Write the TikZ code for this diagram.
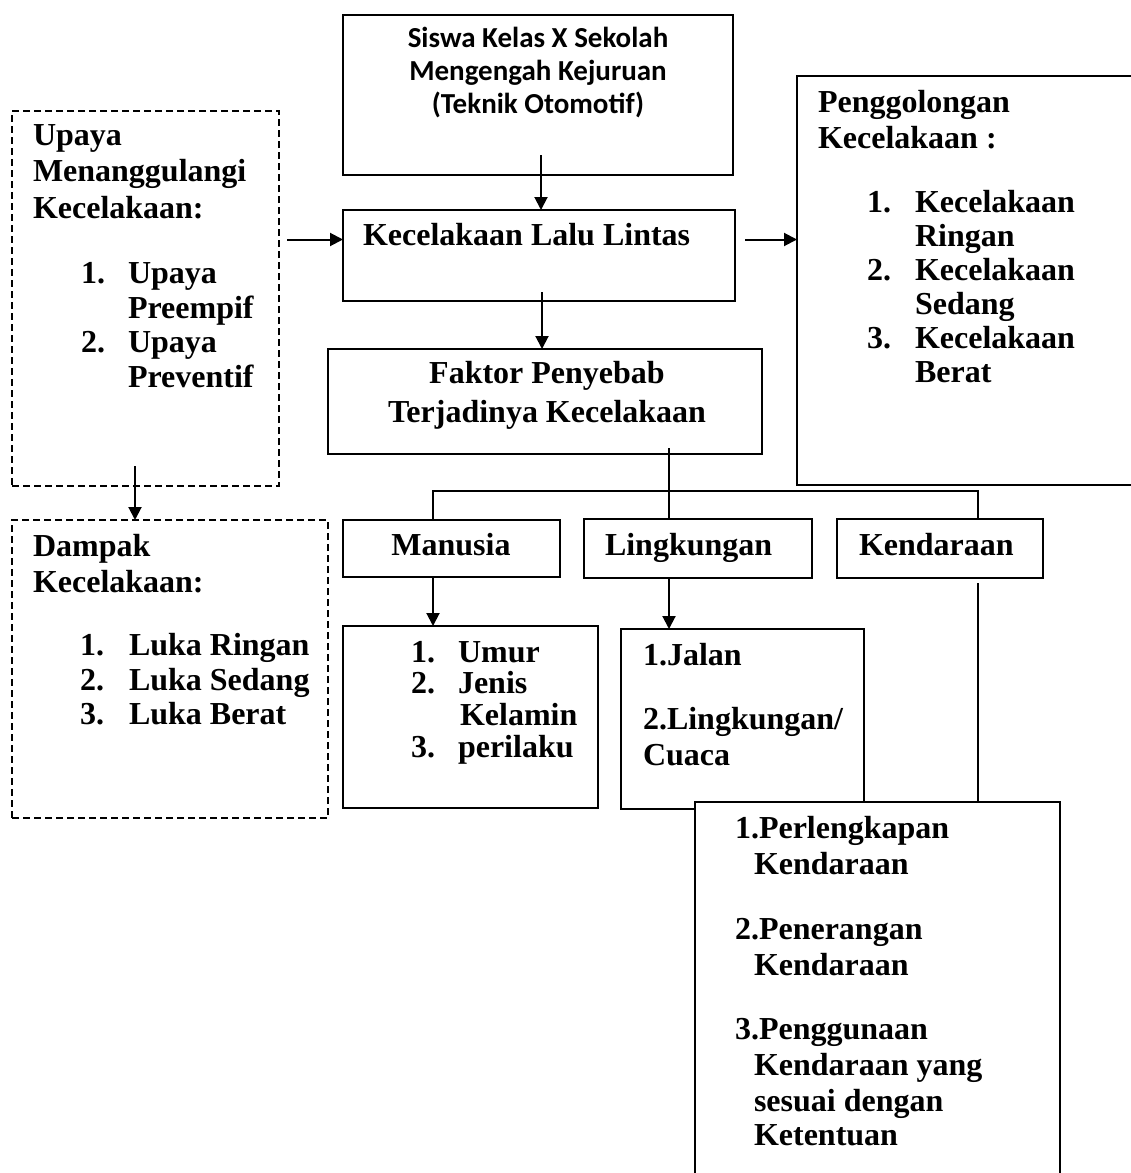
\documentclass[tikz,border=0pt]{standalone}
\usepackage{fontspec}
\usetikzlibrary{arrows.meta,calc}
\newfontfamily\tnrfam{Liberation Serif}
\newfontfamily\calfam{Carlito}
\newcommand\tnrfont{\tnrfam\bfseries\fontsize{32}{36}\selectfont}
\newcommand\calfont{\calfam\bfseries\fontsize{29}{33}\selectfont}
\newcommand\mkbox[6]{\node[#2, minimum width={#5pt-#3pt}, minimum height={#6pt-#4pt}] (#1) at (#3,#4) {};}
\newcommand\tline[4]{\node[txt] (#1) at (#2,#3) {#4};}
\begin{document}
\begin{tikzpicture}[x=1pt,y=-1pt,
  box/.style={draw, line width=2pt, inner sep=0pt, outer sep=0pt, anchor=north west},
  dbox/.style={box, line width=1.8pt, dash pattern=on 7pt off 4pt},
  wbox/.style={box, fill=white},
  arr/.style={line width=2pt, -{Triangle[length=13pt,width=13pt]}},
  ln/.style={line width=2pt},
  txt/.style={inner sep=0pt, outer sep=0pt, font=\tnrfont, anchor=base west},
  ctxt/.style={txt, anchor=base},
  caltxt/.style={inner sep=0pt, outer sep=0pt, font=\calfont, anchor=base}]
\useasboundingbox (0,0) rectangle (1131,1173);
\clip (0,0) rectangle (1131,1173);
\fill[white] (0,0) rectangle (1131,1173);

% boxes
\mkbox{siswa}{box}{343}{15}{733}{175}
\mkbox{kll}{box}{343}{210}{735}{301}
\mkbox{faktor}{box}{328}{349}{762}{454}
\mkbox{upaya}{dbox}{12}{111}{279}{486}
\mkbox{dampak}{dbox}{12}{520}{328}{818}
\mkbox{peng}{box}{797}{76}{1160}{485}
\mkbox{manusia}{box}{343}{520}{560}{577}
\mkbox{lingk}{box}{584}{519}{812}{578}
\mkbox{kend}{box}{837}{519}{1043}{578}
\mkbox{mitems}{box}{343}{626}{598}{808}
\mkbox{litems}{box}{621}{629}{864}{809}
\mkbox{kitems}{wbox}{695}{802}{1060}{1200}

% texts
\node[caltxt] (s1) at (538,47) {Siswa Kelas X Sekolah};
\node[caltxt] (s2) at (538,80) {Mengengah Kejuruan};
\node[caltxt] (s3) at (538,113) {(Teknik Otomotif)};

\tline{k1}{363}{245}{Kecelakaan Lalu Lintas}

\node[ctxt] (f1) at (547,383) {Faktor Penyebab};
\node[ctxt] (f2) at (547,422) {Terjadinya Kecelakaan};

\tline{p1}{818}{112}{Penggolongan}
\tline{p2}{818}{148}{Kecelakaan :}
\tline{p3n}{867}{212}{1.}
\tline{p3}{915}{212}{Kecelakaan}
\tline{p4}{915}{246}{Ringan}
\tline{p5n}{867}{280}{2.}
\tline{p5}{915}{280}{Kecelakaan}
\tline{p6}{915}{314}{Sedang}
\tline{p7n}{867}{348}{3.}
\tline{p7}{915}{348}{Kecelakaan}
\tline{p8}{915}{382}{Berat}

\tline{u1}{33}{145}{Upaya}
\tline{u2}{33}{181}{Menanggulangi}
\tline{u3}{33}{218}{Kecelakaan:}
\tline{u4n}{81}{283}{1.}
\tline{u4}{128}{283}{Upaya}
\tline{u5}{128}{318}{Preempif}
\tline{u6n}{81}{352}{2.}
\tline{u6}{128}{352}{Upaya}
\tline{u7}{128}{387}{Preventif}

\tline{d1}{33}{556}{Dampak}
\tline{d2}{33}{592}{Kecelakaan:}
\tline{d3n}{80}{655}{1.}
\tline{d3}{129}{655}{Luka Ringan}
\tline{d4n}{80}{690}{2.}
\tline{d4}{129}{690}{Luka Sedang}
\tline{d5n}{80}{724}{3.}
\tline{d5}{129}{724}{Luka Berat}

\node[ctxt] (m0) at (451,555) {Manusia};
\tline{l0}{605}{555}{Lingkungan}
\tline{e0}{859}{555}{Kendaraan}

\tline{m1n}{411}{662}{1.}
\tline{m1}{458}{662}{Umur}
\tline{m2n}{411}{693}{2.}
\tline{m2}{458}{693}{Jenis}
\tline{m3}{460}{725}{Kelamin}
\tline{m4n}{411}{757}{3.}
\tline{m4}{458}{757}{perilaku}

\tline{l1}{643}{665}{1.Jalan}
\tline{l2}{643}{729}{2.Lingkungan/}
\tline{l3}{643}{765}{Cuaca}

\tline{e1}{735}{838}{1.Perlengkapan}
\tline{e2}{754}{874}{Kendaraan}
\tline{e3}{735}{939}{2.Penerangan}
\tline{e4}{754}{975}{Kendaraan}
\tline{e5}{735}{1039}{3.Penggunaan}
\tline{e6}{754}{1075}{Kendaraan yang}
\tline{e7}{754}{1111}{sesuai dengan}
\tline{e8}{754}{1145}{Ketentuan}

% connectors
\coordinate (kin) at ([yshift=16pt]kll.west);
\coordinate (kout) at ([yshift=16pt]kll.east);
\coordinate (fb) at (669,491);
\coordinate (bl) at (433,491);
\coordinate (br) at (978,491);
\coordinate (ud) at (135,0);

\draw[arr] ([xshift=3pt,yshift=20pt]siswa.south) -- ([xshift=2pt]kll.north);
\draw[arr] ([xshift=8pt]upaya.east |- kin) -- (kin);
\draw[arr] ([xshift=10pt]kout) -- (kout -| peng.west);
\draw[arr] ([xshift=3pt,yshift=9pt]kll.south) -- ([xshift=3pt]kll.south |- faktor.north);
\draw[ln] ([yshift=6pt]faktor.south -| fb) -- (fb) -- (fb |- lingk.north);
\draw[ln] (manusia.north -| bl) -- (bl) -- (br) -- (br |- kend.north);
\draw[arr] (manusia.south -| bl) -- (mitems.north -| bl);
\draw[arr] (lingk.south -| fb) -- (litems.north -| fb);
\draw[ln] ([yshift=-5pt]kend.south -| br) -- (kitems.north -| br);
\draw[arr] ([yshift=20pt]upaya.south -| ud) -- (dampak.north -| ud);
\end{tikzpicture}
\end{document}
